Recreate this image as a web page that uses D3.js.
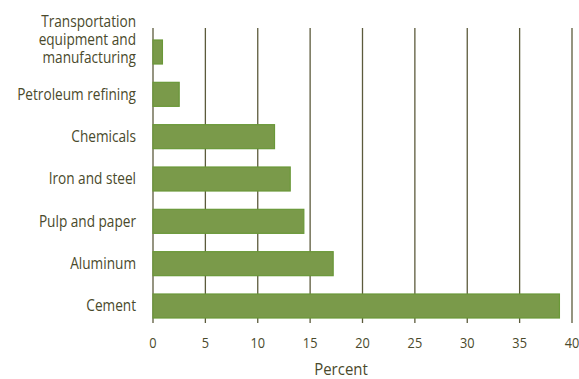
<!DOCTYPE html>
<html>
<head>
<meta charset="utf-8">
<script src="https://cdn.jsdelivr.net/npm/d3@7"></script>
<style>
  html, body { margin: 0; padding: 0; background: #fff; }
  svg { display: block; }
  text { font-family: "Open Sans", sans-serif; fill: #4a4a2c; }
</style>
</head>
<body>
<svg id="chart" width="579" height="379"></svg>
<script>
// Industry categories (top to bottom) and their share, in percent
const categories = [
  "Transportation equipment and manufacturing",
  "Petroleum refining",
  "Chemicals",
  "Iron and steel",
  "Pulp and paper",
  "Aluminum",
  "Cement"
];
const values = [0.9, 2.5, 11.6, 13.1, 14.4, 17.2, 38.8];
const tickValues = [0, 5, 10, 15, 20, 25, 30, 35, 40];
const axisTitle = "Percent";

// Multi-line label for the long first category
const labelLines = {
  "Transportation equipment and manufacturing": ["Transportation", "equipment and", "manufacturing"]
};

const svg = d3.select("#chart");
const x = d3.scaleLinear().domain([0, 40]).range([153, 572]);
const y = d3.scaleBand().domain(categories).range([40, 318]).paddingInner(0.433).paddingOuter(0);

const gridTop = 28, gridBottom = 323;
const squeeze = 0.88; // narrow the glyphs horizontally for a condensed look

// Vertical gridlines
svg.append("g")
  .selectAll("line")
  .data(tickValues)
  .join("line")
  .attr("x1", d => x(d)).attr("x2", d => x(d))
  .attr("y1", gridTop).attr("y2", gridBottom)
  .attr("stroke", "#5c5b3c")
  .attr("stroke-width", 1.3);

// Bars
svg.append("g")
  .selectAll("rect")
  .data(categories)
  .join("rect")
  .attr("x", x(0))
  .attr("y", d => y(d))
  .attr("width", (d, i) => x(values[i]) - x(0))
  .attr("height", y.bandwidth())
  .attr("fill", "#7a9a4a")
  .attr("stroke", "#6a9838")
  .attr("stroke-width", 1.2);

// Category labels (right-aligned; multi-line labels sit with last line at the bar's lower edge)
const labels = svg.append("g").attr("font-size", 15.5).attr("text-anchor", "end");
categories.forEach(c => {
  const lines = labelLines[c] || [c];
  const lh = 18;
  const cy = lines.length > 1
    ? y(c) + y.bandwidth() - 6 - (lines.length - 1) * lh
    : y(c) + y.bandwidth() / 2;
  const g = labels.append("g").attr("transform", `translate(136,${cy}) scale(${squeeze},1)`);
  lines.forEach((ln, i) => {
    g.append("text")
      .attr("x", 0)
      .attr("y", i * lh)
      .attr("dy", "0.35em")
      .text(ln);
  });
});

// Bottom tick labels
svg.append("g")
  .selectAll("g")
  .data(tickValues)
  .join("g")
  .attr("transform", d => `translate(${x(d)},343) scale(${squeeze},1)`)
  .append("text")
  .attr("dy", "0.35em")
  .attr("text-anchor", "middle")
  .attr("font-size", 14.5)
  .text(d => d);

// Axis title
svg.append("g")
  .attr("transform", `translate(341,369) scale(${squeeze},1)`)
  .append("text")
  .attr("dy", "0.35em")
  .attr("text-anchor", "middle")
  .attr("font-size", 17)
  .text(axisTitle);
</script>
</body>
</html>
